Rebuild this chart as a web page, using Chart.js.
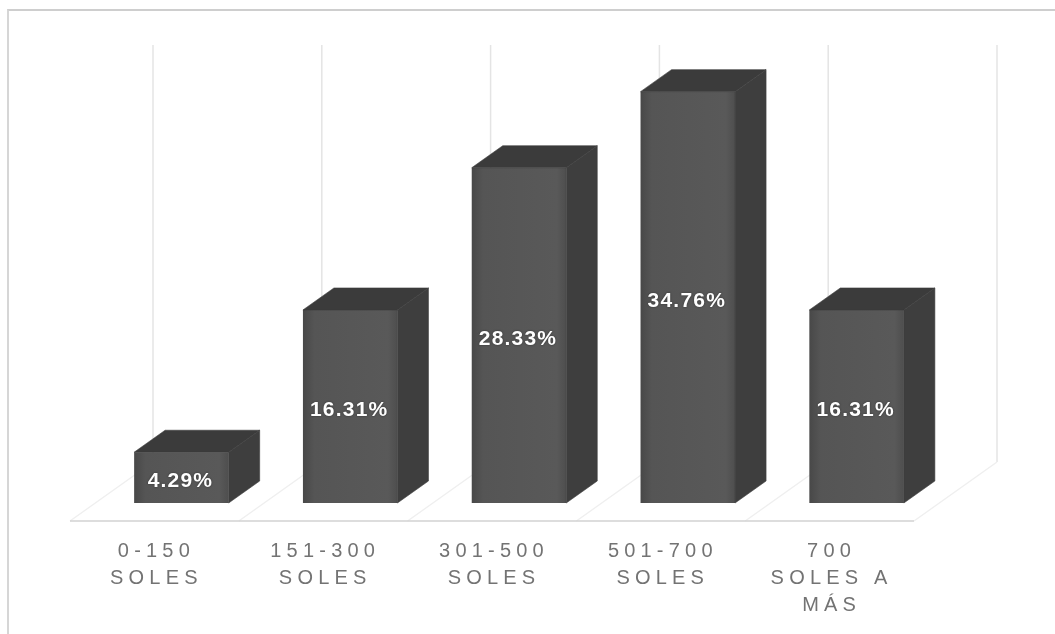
<!DOCTYPE html>
<html>
<head>
<meta charset="utf-8">
<title>Rangos de soles</title>
<script src="https://cdn.jsdelivr.net/npm/chart.js"></script>
<style>
  html, body { margin: 0; padding: 0; background: #fff; }
  #wrap { position: relative; width: 1055px; height: 634px; overflow: hidden; }
  #frame { position: absolute; left: 7px; top: 9px; right: -5px; bottom: -5px;
           border-left: 2px solid #d6d6d6; border-top: 2px solid #cecece; }
</style>
</head>
<body>
<div id="wrap"><div id="frame"></div><canvas id="chart"></canvas></div>
<script>
const categories = [
  ['0-150', 'SOLES'],
  ['151-300', 'SOLES'],
  ['301-500', 'SOLES'],
  ['501-700', 'SOLES'],
  ['700', 'SOLES A', 'MÁS']
];
const percentages = [4.29, 16.31, 28.33, 34.76, 16.31];

const TOP = '#3b3b3b';
const SIDE = '#3e3e3e';
const GRID = '#e4e4e4';
const FLOOR = '#efefef';
const BAR_SHARE = 0.8 * 0.7;

// offsets that give the bars and the floor their fake depth
const barDepth = { x: 31, y: -22 };
const wallDepth = { x: 83, y: -59 };
const floorY = 521;
const floorShift = -27;

function poly(ctx, pts, fill) {
  ctx.beginPath();
  pts.forEach((p, i) => i ? ctx.lineTo(p[0], p[1]) : ctx.moveTo(p[0], p[1]));
  ctx.closePath();
  ctx.fillStyle = fill;
  ctx.strokeStyle = fill;
  ctx.lineWidth = 0.6;
  ctx.fill();
  ctx.stroke();
}

// front face is a bit darker at its edges
function frontFill(context) {
  const x = context.chart.scales.x;
  const fallback = '#565656';
  if (!x || context.dataIndex === undefined) return fallback;
  const width = (x.getPixelForValue(1) - x.getPixelForValue(0)) * BAR_SHARE;
  const l = x.getPixelForValue(context.dataIndex) - width / 2;
  if (!isFinite(l) || !isFinite(width)) return fallback;
  const g = context.chart.ctx.createLinearGradient(l, 0, l + width, 0);
  g.addColorStop(0, '#484848');
  g.addColorStop(0.12, '#555555');
  g.addColorStop(0.9, '#595959');
  g.addColorStop(1, '#4e4e4e');
  return g;
}

const spacedTicks = {
  id: 'spacedTicks',
  beforeDraw(chart) { chart.ctx.letterSpacing = '5.2px'; },
  beforeDatasetsDraw(chart) { chart.ctx.letterSpacing = '0px'; }
};

// back wall lines and floor lines, drawn behind the bars
const walls = {
  id: 'walls',
  beforeDatasetsDraw(chart) {
    const { ctx, scales: { x, y } } = chart;
    const step = x.getPixelForValue(1) - x.getPixelForValue(0);
    const left = x.getPixelForValue(0) - step / 2;
    const frontLeft = left + floorShift;
    const backY = floorY + wallDepth.y;
    ctx.save();
    ctx.lineWidth = 1.5;
    for (let i = 0; i <= categories.length; i++) {
      const fx = frontLeft + i * step;
      const bx = fx + wallDepth.x;
      ctx.strokeStyle = GRID;
      ctx.beginPath();
      ctx.moveTo(bx, y.top);
      ctx.lineTo(bx, backY);
      ctx.stroke();
      ctx.strokeStyle = FLOOR;
      ctx.beginPath();
      ctx.moveTo(bx, backY);
      ctx.lineTo(fx, floorY);
      ctx.stroke();
    }
    ctx.strokeStyle = '#d2d2d2';
    ctx.beginPath();
    ctx.moveTo(frontLeft, floorY);
    ctx.lineTo(frontLeft + categories.length * step, floorY);
    ctx.stroke();
    ctx.restore();
  }
};

// top and side faces of each bar, then the value on the front face
const bars3d = {
  id: 'bars3d',
  afterDatasetsDraw(chart) {
    const { ctx } = chart;
    chart.getDatasetMeta(0).data.forEach((bar, i) => {
      const l = bar.x - bar.width / 2;
      const r = bar.x + bar.width / 2;
      const t = bar.y;
      const b = bar.base;
      poly(ctx, [[l, t], [l + barDepth.x, t + barDepth.y], [r + barDepth.x, t + barDepth.y], [r, t]], TOP);
      poly(ctx, [[r, t], [r + barDepth.x, t + barDepth.y], [r + barDepth.x, b + barDepth.y], [r, b]], SIDE);
      ctx.save();
      ctx.font = 'bold 21px "Liberation Sans"';
      ctx.letterSpacing = '1.2px';
      ctx.fillStyle = '#fff';
      ctx.shadowColor = 'rgba(30,30,30,0.7)';
      ctx.shadowBlur = 2;
      ctx.textAlign = 'center';
      ctx.textBaseline = 'middle';
      ctx.fillText(percentages[i].toFixed(2) + '%', bar.x - 1, (t + b) / 2 + 4);
      ctx.restore();
    });
  }
};

new Chart(document.getElementById('chart'), {
  type: 'bar',
  data: {
    labels: categories,
    datasets: [{
      data: percentages,
      backgroundColor: frontFill,
      barPercentage: 0.7,
      categoryPercentage: 0.8
    }]
  },
  options: {
    responsive: true,
    maintainAspectRatio: false,
    animation: false,
    layout: { padding: { left: 97, right: 114, top: 45, bottom: 0 } },
    plugins: { legend: { display: false }, tooltip: { enabled: false } },
    scales: {
      x: {
        grid: { display: false },
        border: { display: false },
        afterFit(scale) { scale.height = 131; },
        ticks: {
          autoSkip: false,
          maxRotation: 0,
          padding: 27,
          labelOffset: floorShift + 2,
          color: '#737373',
          font: { family: '"Liberation Sans"', size: 20, lineHeight: 1.35 }
        }
      },
      y: {
        display: false,
        min: 0,
        max: 38.7
      }
    }
  },
  plugins: [spacedTicks, walls, bars3d]
});
</script>
</body>
</html>
